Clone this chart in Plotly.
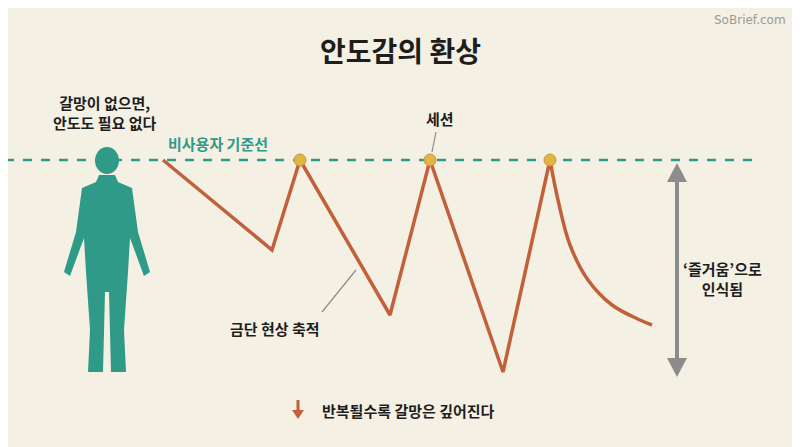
import plotly.graph_objects as go

# zigzag (x px, y px)
zig_x = [163, 272, 300, 390, 430, 503, 550]
zig_y = [160, 250, 160, 315, 160, 372, 160]
decay_x = [550, 558, 570, 588, 612, 640, 652]
decay_y = [160, 200, 245, 280, 305, 320, 325]
session_x = [300, 430, 550]
session_y = [160, 160, 160]
baseline_y = 160

bg = "#f4f0e4"
teal = "#2f9a88"
rust = "#c2603b"
gold = "#e2b445"
grey = "#8c8c8c"
font = "Noto Sans CJK KR"

fig = go.Figure()
fig.add_trace(go.Scatter(x=[5, 752], y=[baseline_y, baseline_y], mode="lines",
                         line=dict(color=teal, width=2.5, dash="dash"), hoverinfo="skip"))
fig.add_trace(go.Scatter(x=zig_x, y=zig_y, mode="lines",
                         line=dict(color=rust, width=3.5), hoverinfo="skip"))
fig.add_trace(go.Scatter(x=decay_x, y=decay_y, mode="lines",
                         line=dict(color=rust, width=3.5, shape="spline", smoothing=1), hoverinfo="skip"))
fig.add_trace(go.Scatter(x=session_x, y=session_y, mode="markers",
                         marker=dict(color=gold, size=12, line=dict(color="#c9963a", width=1)),
                         hoverinfo="skip"))

shapes = [
    # person
    dict(type="circle", x0=95, x1=119, y0=147, y1=174, fillcolor=teal, line_width=0),
    dict(type="path", path="M 99 175 L 115 175 L 118 182 L 132 188 L 138 232 L 150 272 L 144 276 L 130 238 "
         "L 128 272 L 124 330 L 126 372 L 111 372 L 109 292 L 105 292 L 103 372 L 88 372 L 90 330 L 86 272 "
         "L 84 238 L 70 276 L 64 272 L 76 232 L 82 188 L 96 182 Z", fillcolor=teal, line_width=0),
    # session pointer
    dict(type="line", x0=436, y0=132, x1=432, y1=152, line=dict(color=grey, width=1.2)),
    # withdrawal pointer
    dict(type="line", x0=322, y0=312, x1=356, y1=270, line=dict(color=grey, width=1.2)),
    # grey arrow
    dict(type="line", x0=677, y0=180, x1=677, y1=360, line=dict(color=grey, width=4)),
    dict(type="path", path="M 667 182 L 677 163 L 687 182 Z", fillcolor=grey, line_width=0),
    dict(type="path", path="M 667 358 L 677 377 L 687 358 Z", fillcolor=grey, line_width=0),
    # bottom down arrow
    dict(type="line", x0=298, y0=400, x1=298, y1=412, line=dict(color=rust, width=3)),
    dict(type="path", path="M 292 410 L 298 419 L 304 410 Z", fillcolor=rust, line_width=0),
]

ann = [
    dict(x=400, y=50, text="<b>안도감의 환상</b>", font=dict(size=28, color="#1e1e1e")),
    dict(x=750, y=20, text="SoBrief.com", font=dict(size=12, color="#9a9a9a", family="DejaVu Sans")),
    dict(x=105, y=112, text="<b>갈망이 없으면,<br>안도도 필요 없다</b>", font=dict(size=15, color="#1e1e1e")),
    dict(x=218, y=143, text="<b>비사용자 기준선</b>", font=dict(size=15, color=teal)),
    dict(x=440, y=118, text="<b>세션</b>", font=dict(size=15, color="#1e1e1e")),
    dict(x=275, y=328, text="<b>금단 현상 축적</b>", font=dict(size=15, color="#1e1e1e")),
    dict(x=722, y=278, text="<b>‘즐거움’으로<br>인식됨</b>", font=dict(size=15, color="#1e1e1e")),
    dict(x=408, y=410, text="<b>반복될수록 갈망은 깊어진다</b>", font=dict(size=15, color="#1e1e1e")),
]
for a in ann:
    a.update(xref="x", yref="y", showarrow=False)
    a["font"].setdefault("family", font)

# page body has an 8px margin, so the figure is shrunk and the ranges shifted to match
fig.update_layout(
    width=792, height=439, margin=dict(l=0, r=0, t=0, b=0),
    paper_bgcolor=bg, plot_bgcolor=bg, showlegend=False,
    xaxis=dict(range=[8, 800], visible=False, fixedrange=True),
    yaxis=dict(range=[447, 8], visible=False, fixedrange=True),
    shapes=shapes, annotations=ann, font=dict(family=font),
)
fig.write_html("out.html")
